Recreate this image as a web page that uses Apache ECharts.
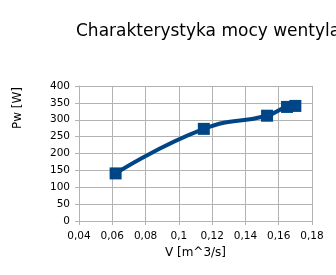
<!DOCTYPE html>
<html><head><meta charset="utf-8">
<script src="https://cdn.jsdelivr.net/npm/echarts@6/dist/echarts.min.js"></script>
<style>html,body{margin:0;padding:0;background:#fff}#c{width:336px;height:275px}</style>
</head><body><div id="c"></div>
<script>
var titleText = 'Charakterystyka mocy wentylatora';
var xName = 'V [m^3/s]';
var yName = 'Pw [W]';
var flowV = [0.062, 0.115, 0.153, 0.165, 0.170];
var powerPw = [141, 273, 312, 338, 341];

var chart = echarts.init(document.getElementById('c'), null, {renderer: 'canvas'});
var fmt = function (v) { return String(Math.round(v * 100) / 100).replace('.', ','); };
var font = 'DejaVu Sans';
chart.setOption({
  animation: false,
  title: {
    text: titleText, left: 71, top: 18,
    textStyle: {fontFamily: font, fontSize: 17, fontWeight: 'normal', color: '#000'}
  },
  grid: {left: 79, right: 24, top: 86, bottom: 54, containLabel: false},
  xAxis: {
    type: 'value', min: 0.04, max: 0.18, interval: 0.02,
    name: xName, nameLocation: 'middle', nameGap: 26,
    nameTextStyle: {fontFamily: font, fontSize: 12, color: '#000'},
    axisLine: {show: true, lineStyle: {color: '#b3b3b3'}},
    axisTick: {show: true, length: 4, inside: false, lineStyle: {color: '#b3b3b3'}},
    axisLabel: {formatter: fmt, fontFamily: font, fontSize: 10.5, color: '#000', margin: 10},
    splitLine: {show: true, lineStyle: {color: '#b3b3b3'}}
  },
  yAxis: {
    type: 'value', min: 0, max: 400, interval: 50,
    axisLine: {show: true, lineStyle: {color: '#b3b3b3'}},
    axisTick: {show: true, length: 4, lineStyle: {color: '#b3b3b3'}},
    axisLabel: {fontFamily: font, fontSize: 10.5, color: '#000', margin: 9},
    splitLine: {show: true, lineStyle: {color: '#b3b3b3'}}
  },
  graphic: [{
    type: 'text', x: 18, y: 108, rotation: Math.PI / 2,
    style: {text: yName, font: '12px "DejaVu Sans"', fill: '#000', textAlign: 'center', textVerticalAlign: 'middle'}
  }],
  series: [{
    type: 'line',
    data: flowV.map(function (v, i) { return [v, powerPw[i]]; }),
    smooth: 0.5,
    symbol: 'rect', symbolSize: 12, showAllSymbol: true,
    lineStyle: {color: '#004586', width: 4},
    itemStyle: {color: '#004586'}
  }]
});
</script></body></html>
